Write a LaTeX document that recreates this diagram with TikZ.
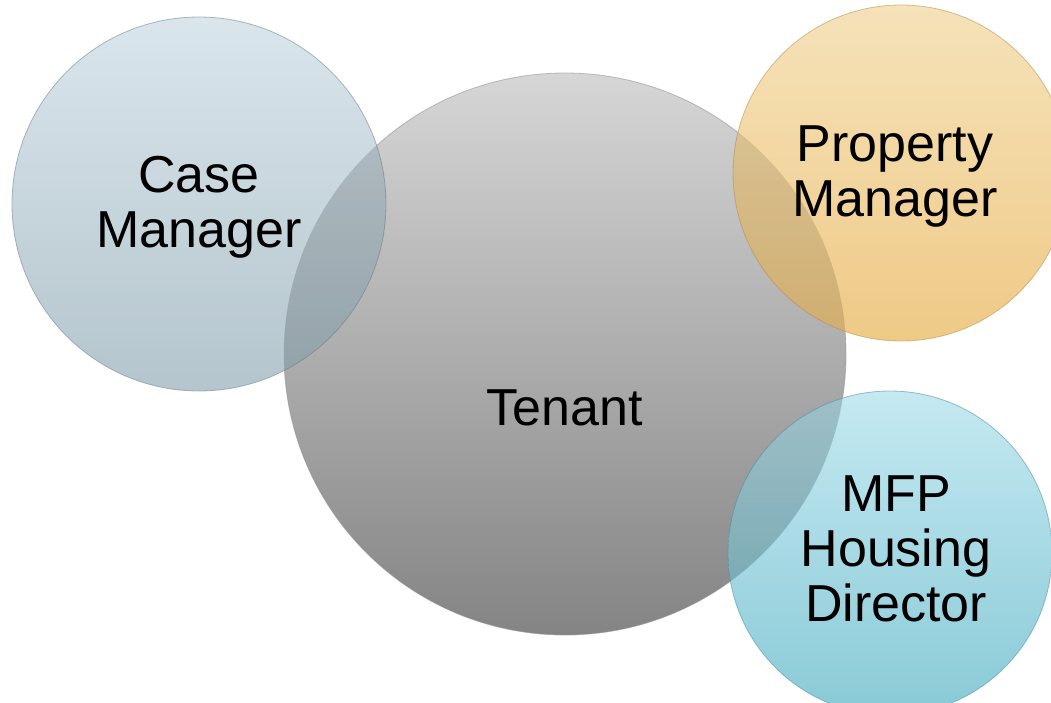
\documentclass[tikz,border=0pt]{standalone}
\usepackage{fontspec}
\setmainfont{Liberation Sans}
\begin{document}
\begin{tikzpicture}[x=1pt,y=-1pt,
  bubble/.style={circle, inner sep=0pt, minimum size=#1, line width=0.8pt},
  label/.style={inner sep=0pt, align=center, font=\fontsize{52}{55}\selectfont, text=black},
  overlapshade/.style={fill=black, fill opacity=0.11}]
\useasboundingbox (0,0) rectangle (1051,702);

% the central circle, drawn first so the others lie over it
\node[bubble=562pt, top color={rgb,255:red,214;green,214;blue,214},
      bottom color={rgb,255:red,132;green,132;blue,132},
      draw={rgb,255:red,150;green,150;blue,150}, draw opacity=0.6] (tenant) at (565,354) {};

% the three surrounding circles, partly see-through
\node[bubble=374pt, top color={rgb,255:red,210;green,224;blue,232},
      bottom color={rgb,255:red,164;green,184;blue,194}, fill opacity=0.82,
      draw={rgb,255:red,120;green,140;blue,150}, draw opacity=0.6] (case) at (199,204) {};
\node[bubble=336pt, top color={rgb,255:red,243;green,220;blue,170},
      bottom color={rgb,255:red,236;green,190;blue,108}, fill opacity=0.82,
      draw={rgb,255:red,190;green,150;blue,90}, draw opacity=0.6] (prop) at (901,173) {};
\node[bubble=324pt, top color={rgb,255:red,184;green,228;blue,238},
      bottom color={rgb,255:red,110;green,190;blue,206}, fill opacity=0.82,
      draw={rgb,255:red,90;green,150;blue,165}, draw opacity=0.6] (mfp) at (890,553) {};

% darker lenses where the outer circles cover the central one
\begin{scope}
  \clip (tenant.center) circle (281);
  \path[overlapshade] (case.center) circle (187);
  \path[overlapshade, fill opacity=0.07] (prop.center) circle (168);
  \path[overlapshade] (mfp.center) circle (162);
\end{scope}

% labels
\node[label] (caseT) at (199,207) {Case\\Manager};
\node[label] (tenantT) at (565,408) {Tenant};
\node[label] (propT) at (895,177) {Property\\Manager};
\node[label] (mfpT) at (896,549) {MFP\\Housing\\Director};
\end{tikzpicture}
\end{document}
